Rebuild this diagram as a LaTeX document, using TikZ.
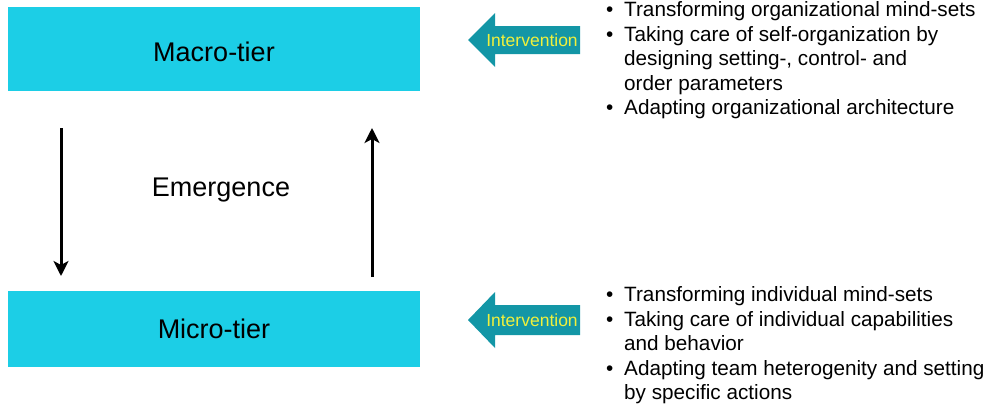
\documentclass[tikz,border=0pt]{standalone}
\usepackage{fontspec}
\setmainfont{Liberation Sans}
\usetikzlibrary{arrows.meta}
\definecolor{tierblue}{HTML}{1CCEE6}
\definecolor{pushteal}{HTML}{1396A6}
\definecolor{pushtext}{HTML}{F0F03C}
\tikzset{
  tier/.style={fill=tierblue, draw=none, minimum width=412pt, minimum height=#1, inner sep=0pt},
  bigtext/.style={font=\fontsize{27}{32}\selectfont, inner sep=0pt},
  flow/.style={line width=3pt, -{Stealth[length=15pt,width=15pt,inset=4pt]}},
  push/.style={fill=pushteal, draw=none},
  pushlabel/.style={text=pushtext, font=\fontsize{17.5}{21}\selectfont, inner sep=0pt},
  listline/.style={anchor=base west, inner sep=0pt, font=\fontsize{20.7}{24.5}\selectfont},
}
\newcommand{\bul}{\makebox[20pt][l]{\hspace{2pt}•}}
\begin{document}
\begin{tikzpicture}[x=1pt, y=-1pt]
  \useasboundingbox (0,0) rectangle (988,405);

  % the two tiers
  \node[tier=84pt] (macro) at (214,49) {};
  \node[bigtext] (macrolabel) at (214,51.5) {Macro-tier};
  \node[tier=76pt] (micro) at (214,329) {};
  \node[bigtext] (microlabel) at (214,329) {Micro-tier};

  % emergence loop between the tiers
  \coordinate (downtop) at (61,128);
  \coordinate (downend) at (61,276);
  \coordinate (upbot) at (372,277);
  \coordinate (uptop) at (372,128);
  \draw[flow] (downtop) -- (downend);
  \draw[flow] (upbot) -- (uptop);
  \node[bigtext] (emerge) at (221,190) {Emergence};

  % intervention arrows pointing at the tiers
  \fill[push] (468,40) -- (495,13) -- (495,26) -- (580,26) -- (580,54) -- (495,54) -- (495,67) -- cycle;
  \node[pushlabel] (pushmacro) at (532,40) {Intervention};
  \fill[push] (468,320) -- (495,292) -- (495,305) -- (580,305) -- (580,335) -- (495,335) -- (495,348) -- cycle;
  \node[pushlabel] (pushmicro) at (532,320) {Intervention};

  % measures on the macro-tier
  \node[listline] (ma1) at (604,16.5) {\bul Transforming organizational mind-sets};
  \node[listline] (ma2) at (604,41) {\bul Taking care of self-organization by};
  \node[listline] (ma3) at (624,65.5) {designing setting-, control- and};
  \node[listline] (ma4) at (624,90) {order parameters};
  \node[listline] (ma5) at (604,114.5) {\bul Adapting organizational architecture};

  % measures on the micro-tier
  \node[listline] (mi1) at (604,301.5) {\bul Transforming individual mind-sets};
  \node[listline] (mi2) at (604,326) {\bul Taking care of individual capabilities};
  \node[listline] (mi3) at (624,350.5) {and behavior};
  \node[listline] (mi4) at (604,375) {\bul Adapting team heterogenity and setting};
  \node[listline] (mi5) at (624,399.5) {by specific actions};
\end{tikzpicture}
\end{document}
